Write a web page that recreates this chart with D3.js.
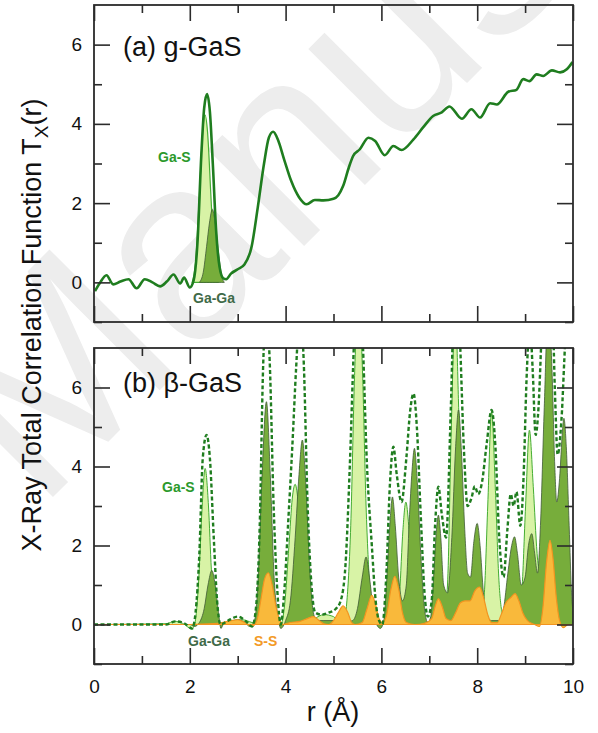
<!DOCTYPE html>
<html>
<head>
<meta charset="utf-8">
<script src="https://cdn.jsdelivr.net/npm/d3@7"></script>
<style>
  body { margin: 0; background: #fff; }
  svg { display: block; font-family: Arial, "Liberation Sans", sans-serif; }
</style>
</head>
<body>
<div id="vis"></div>
<script>
////////////////////////////////////////
//////////////// Data //////////////////
////////////////////////////////////////

// [r (Å), T(r)]

// (a) g-GaS total correlation function
const glassTotal = [
  [0.02,-0.22],[0.12,-0.02],[0.26,0.18],[0.40,-0.05],[0.55,0.02],[0.72,0.08],[0.89,-0.15],
  [1.06,0.08],[1.22,0.0],[1.38,-0.1],[1.52,0.02],[1.66,0.2],[1.80,-0.03],[1.88,0.12],[2.0,-0.13],
  [2.08,0.05],[2.16,1.0],[2.24,3.2],[2.3,4.4],[2.36,4.75],[2.42,4.3],[2.48,3.0],[2.55,1.3],
  [2.62,0.4],[2.7,0.1],[2.76,0.08],[2.86,0.22],[3.0,0.33],[3.14,0.45],[3.29,0.9],[3.42,1.9],
  [3.55,3.0],[3.65,3.65],[3.74,3.8],[3.84,3.6],[3.97,3.1],[4.12,2.55],[4.28,2.15],[4.44,1.97],
  [4.61,2.08],[4.79,2.07],[5.0,2.11],[5.1,2.2],[5.2,2.43],[5.32,2.9],[5.41,3.19],[5.55,3.36],
  [5.73,3.65],[5.87,3.57],[6.07,3.21],[6.25,3.44],[6.42,3.34],[6.67,3.61],[6.87,3.91],[7.08,4.2],
  [7.26,4.29],[7.42,4.44],[7.68,4.13],[7.88,4.37],[8.06,4.16],[8.27,4.52],[8.41,4.49],[8.65,4.81],
  [8.82,4.86],[8.96,5.13],[9.09,5.08],[9.24,5.25],[9.38,5.21],[9.56,5.35],[9.73,5.3],[9.87,5.38],
  [9.99,5.56]
];

const glassGaS = [
  [2.05,0],[2.12,0.5],[2.2,2.2],[2.27,3.8],[2.32,4.22],[2.37,3.8],[2.44,2.2],[2.5,0.8],[2.56,0.1],[2.6,0]
];

const glassGaGa = [
  [2.2,0],[2.28,0.25],[2.35,0.9],[2.41,1.5],[2.47,1.84],[2.53,1.5],[2.6,0.75],[2.66,0.2],[2.72,0]
];

// (b) beta-GaS
const crystTotal = [
  [0,0],[1.5,0.0],[1.7,0.08],[1.9,0.02],[2.05,-0.1],[2.12,0.3],[2.2,1.8],[2.27,4.2],[2.35,4.8],
  [2.42,4.2],[2.5,2.2],[2.57,0.6],[2.64,0.0],[2.8,0.1],[3.0,0.2],[3.2,0.05],[3.3,-0.05],[3.38,0.4],
  [3.46,2.5],[3.53,6.5],[3.6,8.0],[3.67,6.6],[3.75,3.0],[3.83,0.8],[3.9,0.0],[3.97,0.8],[4.05,2.5],
  [4.14,4.5],[4.22,6.5],[4.3,8.0],[4.38,6.6],[4.46,3.0],[4.54,1.0],[4.62,0.3],[4.75,0.25],[4.9,0.3],
  [5.05,0.4],[5.15,0.6],[5.25,1.5],[5.34,4.0],[5.44,7.5],[5.52,9.0],[5.6,7.5],[5.7,4.0],[5.8,2.0],
  [5.88,0.6],[5.95,0.1],[6.02,0.0],[6.1,1.2],[6.18,3.6],[6.25,4.5],[6.32,3.8],[6.42,3.1],[6.52,4.2],
  [6.6,5.4],[6.67,5.85],[6.74,5.0],[6.82,2.8],[6.9,0.8],[6.97,0.2],[7.05,0.6],[7.12,2.5],[7.19,3.49],
  [7.26,2.8],[7.35,2.2],[7.45,5.5],[7.54,9.0],[7.63,7.5],[7.72,4.5],[7.8,3.0],[7.88,3.2],[7.95,3.5],
  [8.02,3.3],[8.1,3.6],[8.2,4.6],[8.3,5.43],[8.38,4.5],[8.46,2.2],[8.55,1.2],[8.63,2.4],[8.7,3.3],
  [8.76,3.0],[8.82,3.36],[8.9,2.5],[8.97,3.8],[9.03,6.2],[9.1,7.6],[9.16,6.4],[9.22,4.8],[9.28,5.5],
  [9.35,7.5],[9.45,9.5],[9.55,9.0],[9.62,6.0],[9.68,4.3],[9.76,5.2],[9.84,7.2],[9.92,8.3],[10,8.0]
];

const crystGaS = [
  [0,0],[1.5,0.02],[1.69,0.08],[1.85,0.03],[2.04,-0.11],[2.1,0],[2.18,1.0],[2.25,2.8],[2.32,3.95],
  [2.39,3.0],[2.45,1.4],[2.52,0.4],[2.6,0.05],[2.7,0.05],[2.9,0.1],[3.1,0.12],[3.3,0.05],[3.5,0.0],
  [3.9,0],[3.98,0.5],[4.07,2.0],[4.14,3.2],[4.2,3.55],[4.27,3.0],[4.35,1.6],[4.42,0.5],[4.5,0.1],
  [4.6,0.15],[4.8,0.25],[5.0,0.2],[5.12,0.05],[5.2,0],[5.28,0.6],[5.36,2.5],[5.44,6.3],[5.52,8.2],
  [5.6,6.6],[5.68,3.0],[5.76,0.9],[5.84,0.1],[6.0,0.05],[6.15,0.15],[6.3,0.1],[6.38,0.8],[6.45,2.4],
  [6.51,3.1],[6.57,2.5],[6.64,1.0],[6.72,0.2],[6.9,0.05],[7.1,0.1],[7.3,0.1],[7.38,1.0],[7.46,5.0],
  [7.54,8.0],[7.62,5.2],[7.7,2.0],[7.78,1.2],[7.86,1.0],[7.95,0.4],[8.08,0.1],[8.15,0.8],[8.22,3.0],
  [8.3,5.39],[8.38,3.4],[8.45,1.2],[8.52,0.3],[8.6,0.1],[8.75,0.3],[8.85,0.2],[8.93,0.8],[9.01,3.0],
  [9.09,4.92],[9.17,3.5],[9.25,1.8],[9.35,1.0],[9.45,0.6],[9.6,0.3],[9.8,0.4],[10,0.3]
];

const crystGaGa = [
  [0,0],[2.0,0],[2.1,-0.05],[2.2,0.05],[2.3,0.4],[2.38,1.0],[2.46,1.37],[2.53,1.0],[2.6,0.3],
  [2.65,-0.1],[2.7,0],[2.9,0.1],[3.0,0.12],[3.15,0.05],[3.25,-0.05],[3.35,0.1],[3.42,1.0],[3.5,3.5],
  [3.6,5.64],[3.68,3.8],[3.76,1.2],[3.84,0.2],[3.9,-0.1],[4.0,0.1],[4.1,0.6],[4.2,2.2],[4.28,3.8],
  [4.35,4.67],[4.42,3.6],[4.5,1.5],[4.58,0.3],[4.65,0.1],[4.8,0.1],[5.0,0.1],[5.2,0.05],[5.4,0.1],
  [5.5,0.4],[5.6,1.2],[5.68,1.71],[5.75,1.2],[5.83,0.4],[5.9,0],[5.98,-0.1],[6.05,0.1],[6.12,1.3],
  [6.18,2.6],[6.23,3.23],[6.29,2.5],[6.36,1.2],[6.44,0.6],[6.52,1.0],[6.58,2.6],[6.64,3.9],
  [6.69,4.46],[6.75,3.6],[6.83,1.6],[6.9,0.4],[6.97,0.05],[7.03,0.2],[7.1,1.4],[7.15,2.4],
  [7.19,2.77],[7.24,2.2],[7.3,1.0],[7.38,0.8],[7.47,2.2],[7.55,4.5],[7.61,5.43],[7.67,4.4],
  [7.74,2.4],[7.8,1.3],[7.86,1.2],[7.93,2.1],[8.0,2.56],[8.06,2.0],[8.13,0.8],[8.2,0.2],[8.3,0.1],
  [8.45,0.1],[8.55,0.4],[8.64,1.3],[8.72,2.0],[8.78,2.22],[8.84,1.8],[8.92,1.0],[9.0,1.2],[9.07,2.0],
  [9.14,2.3],[9.2,1.8],[9.26,1.3],[9.32,2.5],[9.4,5.5],[9.48,8.0],[9.56,6.5],[9.62,4.0],[9.66,3.1],
  [9.72,3.7],[9.78,4.9],[9.81,5.22],[9.86,4.5],[9.92,2.5],[9.97,0.8],[10,0.3]
];

const crystSS = [
  [0,0],[2.0,0],[2.5,0.02],[2.8,0.08],[3.0,0.12],[3.15,0.05],[3.3,-0.05],[3.4,0.1],[3.48,0.6],
  [3.56,1.15],[3.64,1.31],[3.72,1.0],[3.8,0.45],[3.88,0.1],[3.95,0.0],[4.1,0.05],[4.3,0.08],
  [4.45,0.15],[4.58,0.2],[4.7,0.1],[4.8,0.02],[4.9,0.0],[5.0,0.1],[5.1,0.3],[5.2,0.47],[5.3,0.3],
  [5.38,0.05],[5.45,0],[5.6,0.05],[5.7,0.4],[5.8,0.74],[5.88,0.5],[5.95,0.15],[6.02,0.05],[6.1,0.2],
  [6.2,0.9],[6.28,1.22],[6.36,0.9],[6.44,0.3],[6.52,0.05],[6.7,0.0],[6.9,0.03],[7.05,0.15],
  [7.12,0.45],[7.19,0.65],[7.27,0.45],[7.35,0.15],[7.45,0.1],[7.55,0.3],[7.65,0.55],[7.75,0.6],
  [7.85,0.6],[7.95,0.85],[8.05,0.95],[8.13,0.7],[8.22,0.25],[8.3,0.05],[8.42,0.05],[8.5,0.25],
  [8.6,0.55],[8.7,0.68],[8.79,0.78],[8.87,0.6],[8.95,0.3],[9.05,0.1],[9.2,0.0],[9.3,-0.05],
  [9.37,0.4],[9.45,1.6],[9.52,2.13],[9.58,1.7],[9.65,0.7],[9.72,0.1],[9.8,-0.08],[9.9,0.0],[10,0.0]
];

// axis ticks
const xMajor = [0, 2, 4, 6, 8, 10];
const xMinor = [1, 3, 5, 7, 9];
const yMajor = [0, 2, 4, 6];
const yMinor = [-1, 1, 3, 5];

////////////////////////////////////////
/////////////// Options ////////////////
////////////////////////////////////////

const options = {
  width: 598,
  height: 733,
  left: 94,
  right: 573,
  major: 16,
  minor: 8,
  frame: "#2b2b2b",
  total: "#1f7d1f",
  gasFill: "#d8f3a6",
  gasStroke: "#45ad33",
  gagaFill: "#77ad3b",
  gagaStroke: "#3f5a35",
  ssFill: "#f9b93b",
  ssStroke: "#f29420",
};

////////////////////////////////////////
////////////// SVG Setup ///////////////
////////////////////////////////////////

const svg = d3
  .select("#vis")
  .append("svg")
  .attr("width", options.width)
  .attr("height", options.height);

// faint watermark behind everything
svg
  .append("text")
  .attr("transform", "translate(38,512) rotate(-45)")
  .attr("font-size", 258)
  .attr("fill", "#ededed")
  .text("Manuscript");

const x = d3.scaleLinear().domain([0, 10]).range([options.left, options.right]);

const panels = [
  { id: "a", top: 5, bottom: 322, label: "(a) g-GaS", labelY: 56 },
  { id: "b", top: 348, bottom: 664, label: "(b) \u03b2-GaS", labelY: 392 },
];

panels.forEach((p) => {
  p.y = d3.scaleLinear().domain([-1, 7]).range([p.bottom, p.top]);
  p.g = svg.append("g");
  svg
    .append("clipPath")
    .attr("id", "clip-" + p.id)
    .append("rect")
    .attr("x", options.left)
    .attr("y", p.top)
    .attr("width", options.right - options.left)
    .attr("height", p.bottom - p.top);
  p.plot = p.g.append("g").attr("clip-path", `url(#clip-${p.id})`);
});

////////////////////////////////////////
////////////// Helpers /////////////////
////////////////////////////////////////

function fillArea(p, data, fill, stroke, sw) {
  const area = d3
    .area()
    .x((d) => x(d[0]))
    .y0(p.y(0))
    .y1((d) => p.y(d[1]))
    .curve(d3.curveMonotoneX);
  p.plot
    .append("path")
    .datum(data)
    .attr("d", area)
    .attr("fill", fill)
    .attr("stroke", stroke)
    .attr("stroke-width", sw)
    .attr("stroke-linejoin", "round");
}

function drawLine(p, data, stroke, sw, dash) {
  const line = d3
    .line()
    .x((d) => x(d[0]))
    .y((d) => p.y(d[1]))
    .curve(d3.curveMonotoneX);
  p.plot
    .append("path")
    .datum(data)
    .attr("d", line)
    .attr("fill", "none")
    .attr("stroke", stroke)
    .attr("stroke-width", sw)
    .attr("stroke-dasharray", dash)
    .attr("stroke-linejoin", "round");
}

function note(text, px, py, color) {
  svg
    .append("text")
    .attr("x", px)
    .attr("y", py)
    .attr("font-size", 14)
    .attr("font-weight", "bold")
    .attr("fill", color)
    .text(text);
}

////////////////////////////////////////
/////////////// Curves /////////////////
////////////////////////////////////////

const [pa, pb] = panels;

fillArea(pa, glassGaS, options.gasFill, options.gasStroke, 1.2);
fillArea(pa, glassGaGa, options.gagaFill, options.gagaStroke, 0.8);
drawLine(pa, glassTotal, options.total, 2.6, null);

fillArea(pb, crystGaS, options.gasFill, options.gasStroke, 1);
fillArea(pb, crystGaGa, options.gagaFill, options.gagaStroke, 0.8);
fillArea(pb, crystSS, options.ssFill, options.ssStroke, 1.2);
drawLine(pb, crystTotal, options.total, 2.4, "4,2.5");

////////////////////////////////////////
//////////////// Axis //////////////////
////////////////////////////////////////

panels.forEach((p) => {
  const g = p.g;
  const h = p.bottom - p.top;
  const w = options.right - options.left;

  const axes = [
    { axis: d3.axisLeft(p.y), pos: `translate(${options.left},0)`, labels: true },
    { axis: d3.axisRight(p.y), pos: `translate(${options.right},0)`, labels: false },
  ];
  axes.forEach((a) => {
    g.append("g")
      .attr("transform", a.pos)
      .call(a.axis.tickValues(yMajor).tickSize(-options.major).tickSizeOuter(0).tickPadding(12)
        .tickFormat(a.labels ? d3.format("d") : ""));
    g.append("g")
      .attr("transform", a.pos)
      .call(a.axis.tickValues(yMinor).tickSize(-options.minor).tickSizeOuter(0).tickFormat(""));
  });

  const xAxes = [
    { axis: d3.axisBottom(x), pos: `translate(0,${p.bottom})`, labels: p.id === "b" },
    { axis: d3.axisTop(x), pos: `translate(0,${p.top})`, labels: false },
  ];
  xAxes.forEach((a) => {
    g.append("g")
      .attr("transform", a.pos)
      .call(a.axis.tickValues(xMajor).tickSize(-options.major).tickSizeOuter(0).tickPadding(16)
        .tickFormat(a.labels ? d3.format("d") : ""));
    g.append("g")
      .attr("transform", a.pos)
      .call(a.axis.tickValues(xMinor).tickSize(-options.minor).tickSizeOuter(0).tickFormat(""));
  });

  // remove domain lines, draw a frame instead
  g.selectAll(".domain").remove();
  g.selectAll(".tick line").attr("stroke", options.frame).attr("stroke-width", 1.6);
  g.selectAll(".tick text")
    .attr("font-size", 19)
    .attr("fill", "#111")
    .attr("font-family", "Arial, 'Liberation Sans', sans-serif");

  g.append("rect")
    .attr("x", options.left)
    .attr("y", p.top)
    .attr("width", w)
    .attr("height", h)
    .attr("fill", "none")
    .attr("stroke", options.frame)
    .attr("stroke-width", 1.8);

  g.append("text")
    .attr("x", 123)
    .attr("y", p.labelY)
    .attr("font-size", 27)
    .attr("fill", "#111")
    .text(p.label);
});

////////////////////////////////////////
//////////////// Labels ////////////////
////////////////////////////////////////

note("Ga-S", 158, 162, "#2b992b");
note("Ga-Ga", 193, 303, "#3f6a48");
note("Ga-S", 162, 492, "#2b992b");
note("Ga-Ga", 188, 646, "#3f6a48");
note("S-S", 254, 646, "#f39a25");

const yTitle = svg
  .append("text")
  .attr("transform", "translate(41,325) rotate(-90)")
  .attr("text-anchor", "middle")
  .attr("font-size", 27)
  .attr("fill", "#111");
yTitle.append("tspan").text("X-Ray Total Correlation Function T");
yTitle.append("tspan").attr("font-size", 19).attr("dy", 7).text("X");
yTitle.append("tspan").attr("dy", -7).text("(r)");

svg
  .append("text")
  .attr("x", 333)
  .attr("y", 721)
  .attr("text-anchor", "middle")
  .attr("font-size", 27)
  .attr("fill", "#111")
  .text("r (\u00c5)");
</script>
</body>
</html>
